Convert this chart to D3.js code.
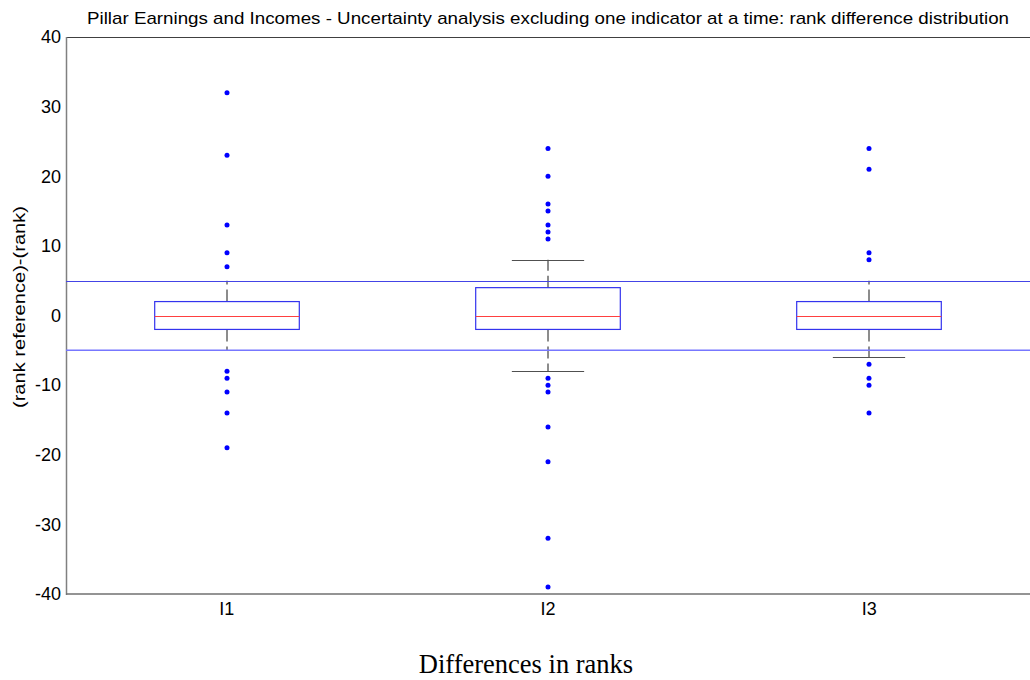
<!DOCTYPE html>
<html>
<head>
<meta charset="utf-8">
<script src="https://cdn.jsdelivr.net/npm/d3@7"></script>
<style>
  html, body { margin: 0; padding: 0; background: #ffffff; }
  svg { display: block; }
</style>
</head>
<body>
<svg id="chart" width="1030" height="680"></svg>
<script>
// Rank-difference distribution per excluded indicator
const categories = ["I1", "I2", "I3"];
const q1 = [-2, -2, -2];
const medians = [0, 0, 0];
const q3 = [2, 4, 2];
const whiskerLow = [-5, -8, -6];
const whiskerHigh = [5, 8, 5];
const outliers = [
  [32, 23, 13, 9, 7, -8, -9, -11, -14, -19],
  [24, 20, 16, 15, 13, 12, 11, -9, -10, -11, -16, -21, -32, -39],
  [24, 21, 9, 8, -7, -9, -10, -14]
];
const thresholds = [5, -5];
const yTicks = [-40, -30, -20, -10, 0, 10, 20, 30, 40];

const svg = d3.select("#chart");
const margin = { left: 66, right: 1030, top: 37, bottom: 594 };

const x = d3.scaleBand().domain(categories).range([margin.left, margin.right]);
const y = d3.scaleLinear().domain([-40, 40]).range([margin.bottom, margin.top]);

const boxW = x.bandwidth() * 0.45;
const capW = boxW * 0.5;
const crisp = v => Math.round(v) + 0.5;

// Title
svg.append("text")
  .attr("x", (margin.left + margin.right) / 2)
  .attr("y", 24)
  .attr("text-anchor", "middle")
  .attr("font-family", "Liberation Sans, Arial, sans-serif")
  .attr("font-size", 17)
  .attr("textLength", 922)
  .attr("lengthAdjust", "spacingAndGlyphs")
  .attr("fill", "#000")
  .text("Pillar Earnings and Incomes - Uncertainty analysis excluding one indicator at a time: rank difference distribution");

// Frame lines: top, left axis, bottom
svg.append("line")
  .attr("x1", margin.left).attr("x2", margin.right)
  .attr("y1", crisp(y(40))).attr("y2", crisp(y(40)))
  .attr("stroke", "#404040").attr("stroke-width", 1);
svg.append("line")
  .attr("x1", margin.left + 0.5).attr("x2", margin.left + 0.5)
  .attr("y1", y(40)).attr("y2", y(-40) + 1)
  .attr("stroke", "#808080").attr("stroke-width", 1.5);
svg.append("line")
  .attr("x1", margin.left).attr("x2", margin.right)
  .attr("y1", y(-40)).attr("y2", y(-40))
  .attr("stroke", "#707070").attr("stroke-width", 1.5);

// Y axis labels (no tick marks)
const yAxis = d3.axisLeft(y).tickValues(yTicks).tickSize(0).tickPadding(5).tickFormat(d => String(d));
const gy = svg.append("g").attr("transform", `translate(${margin.left},0)`).call(yAxis);
gy.select(".domain").remove();
gy.selectAll("text")
  .attr("font-family", "Liberation Sans, Arial, sans-serif")
  .attr("font-size", 18)
  .attr("fill", "#000");

// X axis labels
const xAxis = d3.axisBottom(x).tickSize(0).tickPadding(8);
const gx = svg.append("g").attr("transform", `translate(0,${margin.bottom})`).call(xAxis);
gx.select(".domain").remove();
gx.selectAll("text")
  .attr("font-family", "Liberation Sans, Arial, sans-serif")
  .attr("font-size", 18)
  .attr("fill", "#000");

// Axis titles
svg.append("text")
  .attr("transform", `translate(25,307) rotate(-90)`)
  .attr("text-anchor", "middle")
  .attr("font-family", "Liberation Sans, Arial, sans-serif")
  .attr("font-size", 17)
  .attr("textLength", 202)
  .attr("lengthAdjust", "spacingAndGlyphs")
  .attr("fill", "#000")
  .text("(rank reference)-(rank)");

svg.append("text")
  .attr("x", 526)
  .attr("y", 673)
  .attr("text-anchor", "middle")
  .attr("font-family", "Liberation Serif, Times New Roman, serif")
  .attr("font-size", 26.5)
  .attr("fill", "#000")
  .text("Differences in ranks");

// Boxes
const g = svg.append("g");
categories.forEach((c, i) => {
  const cx = Math.round(x(c) + x.bandwidth() / 2);

  // whiskers, dashed from box outward
  g.append("line")
    .attr("x1", cx).attr("x2", cx)
    .attr("y1", y(q3[i])).attr("y2", y(whiskerHigh[i]))
    .attr("stroke", "#8c8c8c").attr("stroke-width", 2)
    .attr("stroke-dasharray", "12,5");
  g.append("line")
    .attr("x1", cx).attr("x2", cx)
    .attr("y1", y(q1[i])).attr("y2", y(whiskerLow[i]))
    .attr("stroke", "#8c8c8c").attr("stroke-width", 2)
    .attr("stroke-dasharray", "12,5");

  // caps
  [whiskerHigh[i], whiskerLow[i]].forEach(v => {
    g.append("line")
      .attr("x1", cx - capW / 2).attr("x2", cx + capW / 2)
      .attr("y1", crisp(y(v))).attr("y2", crisp(y(v)))
      .attr("stroke", "#505050").attr("stroke-width", 1);
  });

  // box
  g.append("rect")
    .attr("x", cx - boxW / 2)
    .attr("y", y(q3[i]))
    .attr("width", boxW)
    .attr("height", y(q1[i]) - y(q3[i]))
    .attr("fill", "none")
    .attr("stroke", "#3333ee").attr("stroke-width", 1.2);

  // median
  g.append("line")
    .attr("x1", cx - boxW / 2).attr("x2", cx + boxW / 2)
    .attr("y1", crisp(y(medians[i]))).attr("y2", crisp(y(medians[i])))
    .attr("stroke", "#ff4040").attr("stroke-width", 1);

  // outliers
  g.selectAll(null)
    .data(outliers[i])
    .enter().append("circle")
    .attr("cx", cx)
    .attr("cy", d => y(d))
    .attr("r", 2.5)
    .attr("fill", "#0000ff");
});

// Threshold lines at +/-5 (drawn over the caps that share their level)
thresholds.forEach((t, k) => {
  const ty = k === 0 ? crisp(y(t)) : y(t);
  svg.append("line")
    .attr("x1", margin.left).attr("x2", margin.right)
    .attr("y1", ty).attr("y2", ty)
    .attr("stroke", k === 0 ? "#4444e6" : "#7777ff")
    .attr("stroke-width", k === 0 ? 1 : 1.5);
});
</script>
</body>
</html>
